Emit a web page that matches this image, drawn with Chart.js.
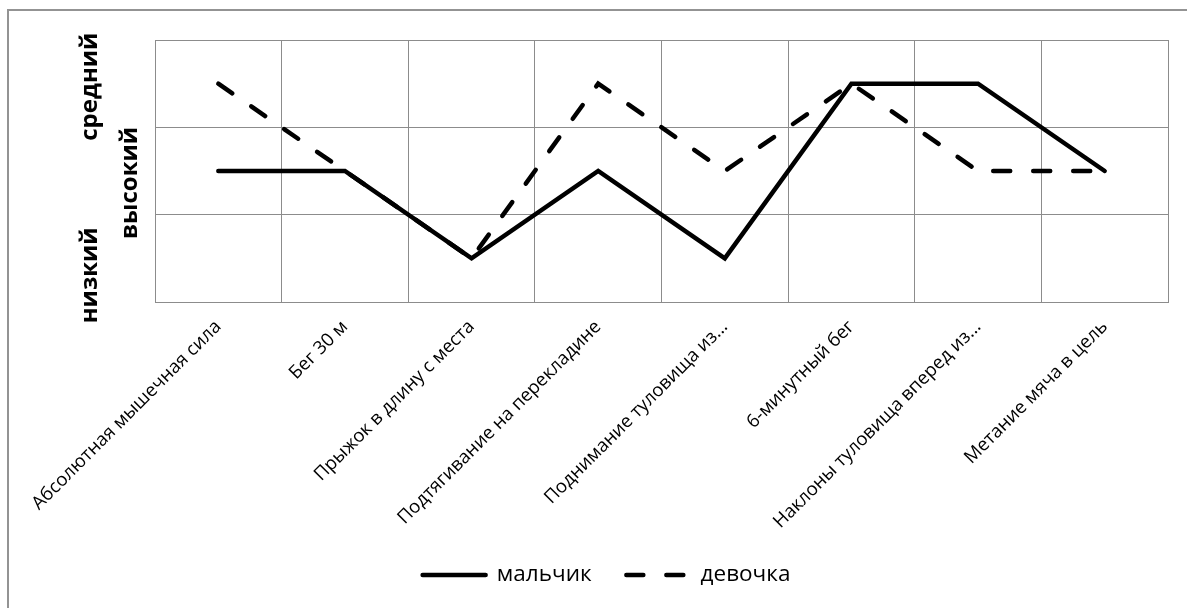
<!DOCTYPE html>
<html>
<head>
<meta charset="utf-8">
<script src="https://cdn.jsdelivr.net/npm/chart.js@4/dist/chart.umd.min.js"></script>
<style>
  html, body { margin: 0; padding: 0; background: #fff; }
  body { width: 1187px; height: 608px; position: relative; overflow: hidden; }
  #frame { position: absolute; left: 7px; top: 9px; width: 1300px; height: 700px; border: 2px solid #939393; box-sizing: border-box; }
  #chart { position: absolute; left: 0; top: 0; }
</style>
</head>
<body>
<div id="frame"></div>
<canvas id="chart" width="1187" height="608"></canvas>
<script>
// Test categories along the horizontal axis
const categories = [
  'Абсолютная мышечная сила',
  'Бег 30 м',
  'Прыжок в длину с места',
  'Подтягивание на перекладине',
  'Поднимание туловища из...',
  '6-минутный бег',
  'Наклоны туловища вперед из...',
  'Метание мяча в цель'
];

// Level bands from bottom to top
const levelLabels = ['низкий', 'высокий', 'средний'];

// Results per test (band index + 0.5 = middle of band)
const boyValues  = [1.5, 1.5, 0.5, 1.5, 0.5, 2.5, 2.5, 1.5];
const girlValues = [2.5, 1.5, 0.5, 2.5, 1.5, 2.5, 1.5, 1.5];

const seriesNames = ['мальчик', 'девочка'];

// Rotated level captions on the left of the plot
const levelCaptions = {
  id: 'levelCaptions',
  afterDraw(chart) {
    const y = chart.scales.y;
    const left = chart.chartArea.left;
    const xOffsets = [-65, -25, -65];
    const yOffsets = [17, 12, 3];
    const ctx = chart.ctx;
    ctx.save();
    ctx.fillStyle = '#000';
    ctx.font = 'bold 24px "Open Sans"';
    ctx.textAlign = 'center';
    ctx.textBaseline = 'middle';
    levelLabels.forEach((txt, i) => {
      const cy = y.getPixelForValue(i + 0.5) + yOffsets[i];
      ctx.save();
      ctx.translate(left + xOffsets[i], cy);
      ctx.rotate(-Math.PI / 2);
      ctx.fillText(txt, 0, 0);
      ctx.restore();
    });
    ctx.restore();
  }
};

const lineStyle = {
  borderColor: '#000',
  backgroundColor: '#000',
  borderWidth: 4.5,
  borderCapStyle: 'round',
  borderJoinStyle: 'miter',
  pointRadius: 0,
  pointHoverRadius: 0,
  tension: 0,
  fill: false
};

new Chart(document.getElementById('chart'), {
  type: 'line',
  data: {
    labels: categories,
    datasets: [
      Object.assign({ label: seriesNames[0], data: boyValues }, lineStyle),
      Object.assign({ label: seriesNames[1], data: girlValues, borderDash: [17, 23] }, lineStyle)
    ]
  },
  options: {
    responsive: false,
    animation: false,
    layout: { padding: { top: 40, right: 19, bottom: 11.75, left: 45 } },
    plugins: {
      tooltip: { enabled: false },
      legend: {
        position: 'bottom',
        labels: {
          usePointStyle: true,
          pointStyle: 'line',
          pointStyleWidth: 63,
          padding: 34.75,
          color: '#000',
          font: { family: '"Open Sans"', size: 22.5 },
          // legend samples keep each series' dash pattern
          generateLabels(chart) {
            const items = Chart.defaults.plugins.legend.labels.generateLabels(chart);
            items.forEach(item => {
              const ds = chart.data.datasets[item.datasetIndex];
              item.lineDash = ds.borderDash || [];
              item.lineCap = 'round';
              item.lineWidth = ds.borderWidth;
            });
            return items;
          }
        }
      }
    },
    scales: {
      x: {
        offset: true,
        grid: { offset: true, color: '#8c8c8c', lineWidth: 1, drawTicks: false },
        border: { color: '#8c8c8c', width: 1 },
        ticks: {
          autoSkip: false,
          minRotation: 45,
          maxRotation: 45,
          padding: 14,
          color: '#000',
          font: { family: '"Open Sans"', size: 18.5 }
        },
        afterFit(scale) { scale.height = 227; }
      },
      y: {
        min: 0,
        max: 3,
        ticks: { stepSize: 1, display: false },
        grid: { color: '#8c8c8c', lineWidth: 1, drawTicks: false },
        border: { color: '#8c8c8c', width: 1 },
        afterFit(scale) { scale.width = 110; }
      }
    }
  },
  plugins: [levelCaptions]
});
</script>
</body>
</html>
